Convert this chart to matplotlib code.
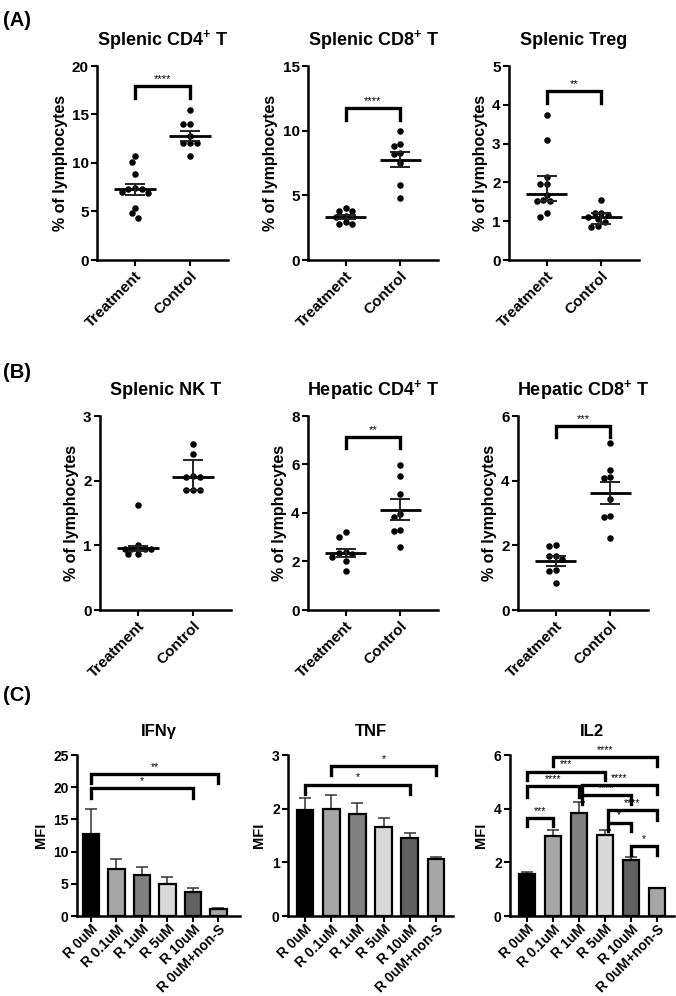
import matplotlib
matplotlib.use("Agg")
import matplotlib.pyplot as plt
import numpy as np

plt.rcParams['font.family'] = ['Liberation Sans', 'DejaVu Sans']
plt.rcParams['font.weight'] = 'bold'
plt.rcParams['mathtext.fontset'] = 'custom'
plt.rcParams['mathtext.rm'] = 'Liberation Sans:bold'
plt.rcParams['mathtext.bf'] = 'Liberation Sans:bold'
plt.rcParams['mathtext.it'] = 'Liberation Sans:bold'

W, H = 676, 996

groups = ["Treatment", "Control"]

# ---- (A) / (B) scatter data, % of lymphocytes ----
spl_cd4_trt = [10.7, 10.1, 8.9, 7.4, 7.3, 7.3, 7.0, 6.9, 5.4, 4.8, 4.3]
spl_cd4_ctl = [15.5, 14.0, 14.0, 12.8, 12.1, 12.1, 12.1, 10.7]
spl_cd4_mid = [7.28, 12.76]
spl_cd4_lo = [6.68, 12.25]
spl_cd4_hi = [7.88, 13.31]

spl_cd8_trt = [4.0, 3.75, 3.75, 3.4, 3.3, 2.9, 2.8, 2.8]
spl_cd8_ctl = [9.95, 9.0, 8.8, 8.3, 8.2, 7.5, 5.8, 4.8]
spl_cd8_mid = [3.34, 7.77]
spl_cd8_lo = [3.18, 7.2]
spl_cd8_hi = [3.5, 8.36]

treg_trt = [3.73, 3.1, 2.15, 1.95, 1.95, 1.68, 1.54, 1.53, 1.52, 1.22, 1.12]
treg_ctl = [1.55, 1.22, 1.2, 1.15, 1.1, 1.06, 0.97, 0.88, 0.86]
treg_mid = [1.69, 1.10]
treg_lo = [1.52, 0.93]
treg_hi = [2.17, 1.22]

nkt_trt = [1.63, 1.0, 0.95, 0.95, 0.95, 0.94, 0.87, 0.86]
nkt_ctl = [2.56, 2.41, 2.07, 2.06, 2.06, 1.85, 1.85, 1.85]
nkt_mid = [0.96, 2.05]
nkt_lo = [0.92, 1.85]
nkt_hi = [0.99, 2.32]

hep_cd4_trt = [3.2, 3.0, 2.4, 2.35, 2.3, 2.2, 2.0, 1.6]
hep_cd4_ctl = [5.97, 5.52, 4.79, 3.96, 3.82, 3.31, 3.26, 2.58]
hep_cd4_mid = [2.37, 4.14]
hep_cd4_lo = [2.2, 3.73]
hep_cd4_hi = [2.51, 4.56]

hep_cd8_trt = [2.02, 1.99, 1.66, 1.66, 1.57, 1.24, 1.22, 0.85]
hep_cd8_ctl = [5.15, 4.33, 4.1, 4.08, 3.43, 2.9, 2.89, 2.23]
hep_cd8_mid = [1.52, 3.61]
hep_cd8_lo = [1.36, 3.29]
hep_cd8_hi = [1.66, 3.95]

# ---- (C) bar data, MFI ----
conditions = ["R 0uM", "R 0.1uM", "R 1uM", "R 5uM", "R 10uM", "R 0uM+non-S"]
ifng_mean = [12.7, 7.3, 6.3, 5.0, 3.7, 1.1]
ifng_err = [3.9, 1.5, 1.3, 1.0, 0.7, 0.1]
tnf_mean = [1.97, 2.0, 1.9, 1.66, 1.45, 1.07]
tnf_err = [0.23, 0.26, 0.21, 0.16, 0.09, 0.03]
il2_mean = [1.58, 2.97, 3.85, 3.02, 2.08, 1.03]
il2_err = [0.07, 0.23, 0.40, 0.18, 0.12, 0.02]

# significance: (from, to, label, bracket top, leg end)
ifng_sig = [(0, 5, "**", 22.0, 20.7), (0, 4, "*", 19.9, 18.4)]
tnf_sig = [(1, 5, "*", 2.80, 2.63), (0, 4, "*", 2.45, 2.28)]
il2_sig = [(1, 5, "****", 5.93, 5.59), (0, 3, "***", 5.38, 5.07),
           (0, 2, "****", 4.83, 4.45), (2, 5, "****", 4.89, 4.54),
           (2, 4, "****", 4.51, 4.17), (3, 5, "****", 3.94, 3.58),
           (0, 1, "***", 3.64, 3.34), (3, 4, "*", 3.48, 3.18),
           (4, 5, "*", 2.61, 2.28)]

bar_colors = ["#000000", "#a6a6a6", "#808080", "#d9d9d9", "#606060", "#a6a6a6"]

fig = plt.figure(figsize=(W / 100, H / 100), dpi=100)


def px_axes(l, r, t, b):
    return fig.add_axes([l / W, 1 - b / H, (r - l) / W, (b - t) / H])


def style(ax, size):
    for s in ["top", "right"]:
        ax.spines[s].set_visible(False)
    for s in ["left", "bottom"]:
        ax.spines[s].set_linewidth(1.8)
    ax.tick_params(width=1.5, length=4, labelsize=size, pad=2)
    for lab in ax.get_yticklabels():
        lab.set_fontweight("bold")


def swarm(vals, ppu_x, ppu_y, d=6.6):
    vals = np.asarray(vals, float)
    offs = np.zeros(len(vals))
    placed = []
    cands = sorted([k * d / 2 for k in range(-8, 9)], key=abs)
    for i in np.argsort(-vals):
        y = vals[i] * ppu_y
        for x in cands:
            if all((x - px) ** 2 + (y - py) ** 2 >= 0.9 * d * d for px, py in placed):
                break
        placed.append((x, y))
        offs[i] = x / ppu_x
    return offs


def bracket(ax, x1, x2, label, top, leg, fs=8):
    ax.plot([x1, x1, x2, x2], [leg, top, top, leg], color="black", lw=2.4,
            solid_joinstyle="miter", clip_on=False)
    ax.annotate(label, ((x1 + x2) / 2, top), xytext=(0, 1.5), textcoords="offset points",
                ha="center", va="bottom", fontsize=fs, fontweight="normal")


def scatter_panel(rect, title, trt, ctl, mid, lo, hi, ymax, ystep, sig=None):
    l, r, t, b = rect
    ax = px_axes(l, r, t, b)
    xlim = (-0.69, 1.69)
    ax.set_xlim(*xlim)
    ax.set_ylim(0, ymax)
    ppu_x = (r - l) / (xlim[1] - xlim[0])
    ppu_y = (b - t) / ymax
    for i, vals in enumerate([trt, ctl]):
        xs = i + swarm(vals, ppu_x, ppu_y)
        ax.scatter(xs, vals, s=22, color="black", zorder=3, linewidths=0)
        ax.hlines(mid[i], i - 0.38, i + 0.38, color="black", lw=2.0, zorder=4)
        ax.vlines(i, lo[i], hi[i], color="#222222", lw=1.4, zorder=4)
        ax.hlines([lo[i], hi[i]], i - 0.18, i + 0.18, color="#222222", lw=1.4, zorder=4)
    ax.set_yticks(np.arange(0, ymax + 0.01, ystep))
    ax.set_xticks([0, 1])
    ax.set_xticklabels(groups, rotation=45, ha="right", rotation_mode="anchor",
                       fontsize=11, fontweight="bold")
    ax.set_ylabel("% of lymphocytes", fontsize=11.5, fontweight="bold", labelpad=3)
    ax.set_title(title, fontsize=13, fontweight="bold", pad=15)
    style(ax, 11)
    if sig:
        bracket(ax, 0, 1, *sig)
    return ax


def bar_panel(rect, title, mean, err, ymax, ystep, xlim, sig):
    l, r, t, b = rect
    ax = px_axes(l, r, t, b)
    x = np.arange(len(conditions))
    ax.bar(x, mean, width=0.64, color=bar_colors, edgecolor="black", linewidth=1.6, zorder=2)
    ax.errorbar(x, mean, yerr=[np.zeros(len(err)), err], fmt="none", ecolor="#333333",
                elinewidth=1.1, capsize=4.5, capthick=1.1, zorder=1)
    ax.set_xlim(*xlim)
    ax.set_ylim(0, ymax)
    ax.set_yticks(np.arange(0, ymax + 0.01, ystep))
    ax.set_xticks(x)
    ax.set_xticklabels(conditions, rotation=45, ha="right", rotation_mode="anchor",
                       fontsize=7.9, fontweight="bold")
    ax.set_ylabel("MFI", fontsize=10.5, fontweight="bold", labelpad=4)
    ax.set_title(title, fontsize=12, fontweight="bold", pad=14)
    style(ax, 10)
    ax.tick_params(axis="x", pad=0.5)
    for s in sig:
        x1, x2, lab, top, leg = s
        if x1 in (2, 3) and lab == "****" or (x1 == 3):
            x1 = x1 + 0.1
        bracket(ax, x1, x2, lab, top, leg, fs=7.5)
    return ax


# (A)
scatter_panel((97, 228, 66, 260), r"Splenic CD4$^{+}$ T", spl_cd4_trt, spl_cd4_ctl,
              spl_cd4_mid, spl_cd4_lo, spl_cd4_hi, 20, 5, ("****", 17.9, 16.7))
scatter_panel((308, 438, 66, 260), r"Splenic CD8$^{+}$ T", spl_cd8_trt, spl_cd8_ctl,
              spl_cd8_mid, spl_cd8_lo, spl_cd8_hi, 15, 5, ("****", 11.76, 10.86))
scatter_panel((509, 639, 66, 260), "Splenic Treg", treg_trt, treg_ctl,
              treg_mid, treg_lo, treg_hi, 5, 1, ("**", 4.36, 4.05))

# (B)
scatter_panel((100, 231, 416, 610), "Splenic NK T", nkt_trt, nkt_ctl,
              nkt_mid, nkt_lo, nkt_hi, 3, 1)
scatter_panel((308, 438, 416, 610), r"Hepatic CD4$^{+}$ T", hep_cd4_trt, hep_cd4_ctl,
              hep_cd4_mid, hep_cd4_lo, hep_cd4_hi, 8, 2, ("**", 7.14, 6.7))
scatter_panel((518, 648, 416, 610), r"Hepatic CD8$^{+}$ T", hep_cd8_trt, hep_cd8_ctl,
              hep_cd8_mid, hep_cd8_lo, hep_cd8_hi, 6, 2, ("***", 5.70, 5.35))

# (C)
bar_panel((77, 240, 755, 916), "IFN\u03b3", ifng_mean, ifng_err, 25, 5, (-0.55, 5.85), ifng_sig)
bar_panel((288, 453, 755, 916), "TNF", tnf_mean, tnf_err, 3, 1, (-0.65, 5.65), tnf_sig)
bar_panel((510, 674, 755, 916), "IL2", il2_mean, il2_err, 6, 2, (-0.65, 5.65), il2_sig)

for lab, y in [("(A)", 20), ("(B)", 372), ("(C)", 695)]:
    fig.text(3 / W, 1 - y / H, lab, fontsize=14.5, fontweight="bold", va="center", ha="left")

fig.savefig("out.png", dpi=100)
